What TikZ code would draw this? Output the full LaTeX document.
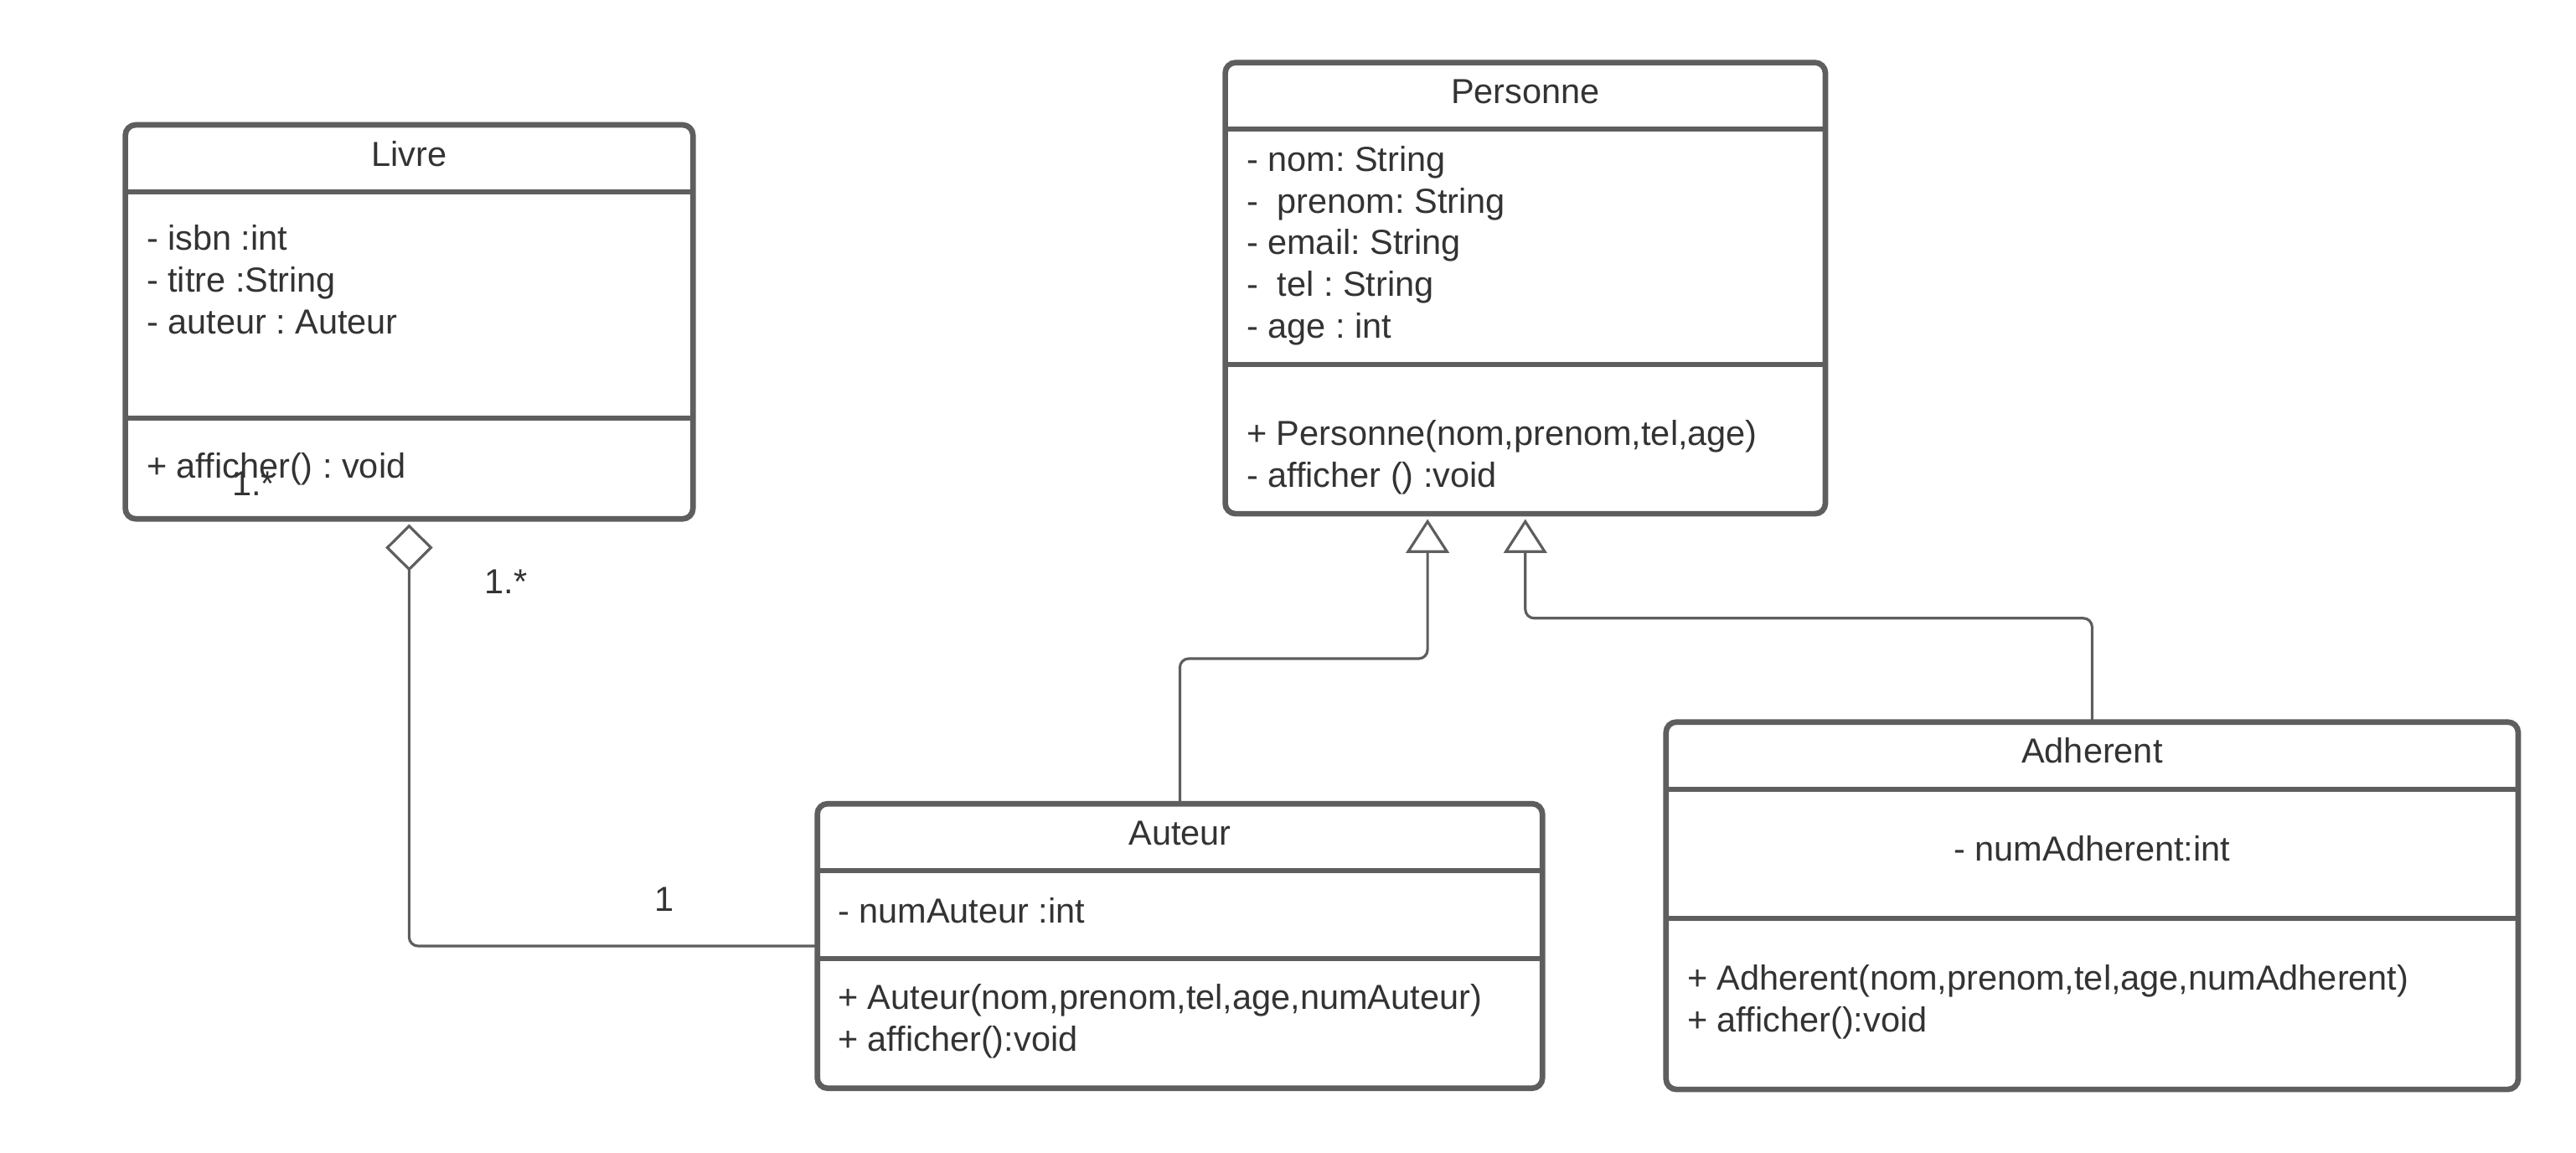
\documentclass[tikz,border=0pt]{standalone}
\usepackage{fontspec}
\setmainfont{Liberation Sans}
\usetikzlibrary{arrows.meta, calc}
\frenchspacing

\definecolor{umlline}{HTML}{5E5E5E}
\definecolor{umltext}{HTML}{333333}
\newcommand{\umlfont}{\fontsize{11.8}{14.2}\selectfont}

\tikzset{
    classbox/.style={draw=umlline, line width=1.9pt, rounded corners=3.5pt,
        anchor=north west, outer sep=0pt, inner sep=0pt},
    sepline/.style={draw=umlline, line width=1.7pt},
    classname/.style={font=\umlfont, text=umltext, anchor=base, inner sep=0pt},
    members/.style={font=\umlfont, text=umltext, align=left, anchor=north west,
        inner sep=0pt, execute at begin node=\strut},
    mult/.style={font=\umlfont, text=umltext, anchor=base west, inner sep=0pt},
    connector/.style={draw=umlline, line width=0.9pt, rounded corners=3pt, shorten >=1.8pt},
    aggregation/.style={connector, -{Diamond[open, length=0.56cm, width=0.565cm]}},
    inherit/.style={connector, -{Triangle[open, length=0.404cm, width=0.514cm]}},
}

\begin{document}
\begin{tikzpicture}[x=0.019611cm, y=-0.019611cm]
            \fill[white] (0,0) rectangle (1568,701.6);
            \useasboundingbox (0,0) rectangle (1568,701.6);
            % Class boxes
            \foreach \name/\x/\y/\w/\h/\sa/\sb in {livre/76.3/76/6.774/4.701/40.9/178.6,
                personne/745.8/38.1/7.162/5.383/40.3/183.5,
                auteur/497.5/489.1/8.654/3.395/40.5/94.3,
                adherent/1014.1/439.4/10.170/4.383/40.8/119.5} {
                \node[classbox, minimum width=\w cm, minimum height=\h cm] (\name) at (\x,\y) {};
                \draw[sepline] ($(\name.north west)+(0,\sa)$) -- ($(\name.north east)+(0,\sa)$);
                \draw[sepline] ($(\name.north west)+(0,\sb)$) -- ($(\name.north east)+(0,\sb)$);
            }
            % Class names
            \foreach \name/\title in {livre/Livre, personne/Personne, auteur/Auteur, adherent/Adherent} {
                \node[classname] (\name-title) at ($(\name.north)+(0,25)$) {\title};
            }
            % Attributes and operations
            \node[members] (livre-attr) at ($(livre.north west)+(12.6,60.5)$)
                {- isbn :int\\- titre :String\\- auteur : Auteur};
            \node[members] (livre-ops) at ($(livre.north west)+(12.6,196.5)$)
                {+ afficher() : void};
            \node[members] (personne-attr) at ($(personne.north west)+(12.6,50.3)$)
                {- nom: String\\-\ \ prenom: String\\- email: String\\-\ \ tel : String\\- age : int};
            \node[members] (personne-ops) at ($(personne.north west)+(12.6,217.4)$)
                {+ Personne(nom,prenom,tel,age)\\- afficher () :void};
            \node[members] (auteur-attr) at ($(auteur.north west)+(12.1,54.2)$)
                {- numAuteur :int};
            \node[members] (auteur-ops) at ($(auteur.north west)+(12.1,109.6)$)
                {+ Auteur(nom,prenom,tel,age,numAuteur)\\+ afficher():void};
            \node[classname] (adherent-attr) at ($(adherent.north)+(0,84.6)$)
                {- numAdherent:int};
            \node[members] (adherent-ops) at ($(adherent.north west)+(12.6,147.5)$)
                {+ Adherent(nom,prenom,tel,age,numAdherent)\\+ afficher():void};
            % Multiplicities
            \node[mult] (livre-mult) at (141,301.5) {1.*};
            \node[mult] (agg-mult) at (294.8,361.3) {1.*};
            \node[mult] (auteur-mult) at (398,554.5) {1};
            % Connectors
            \coordinate (personne-in) at ($(personne.south)+(-59.5,0)$);
            \draw[aggregation] (auteur.west) -| (livre.south);
            \draw[inherit] (auteur.north) -- ++(0,-88.3) -| (personne-in);
            \draw[inherit] (adherent.north) -- ++(0,-63.2) -| (personne.south);
        \end{tikzpicture}
\end{document}
